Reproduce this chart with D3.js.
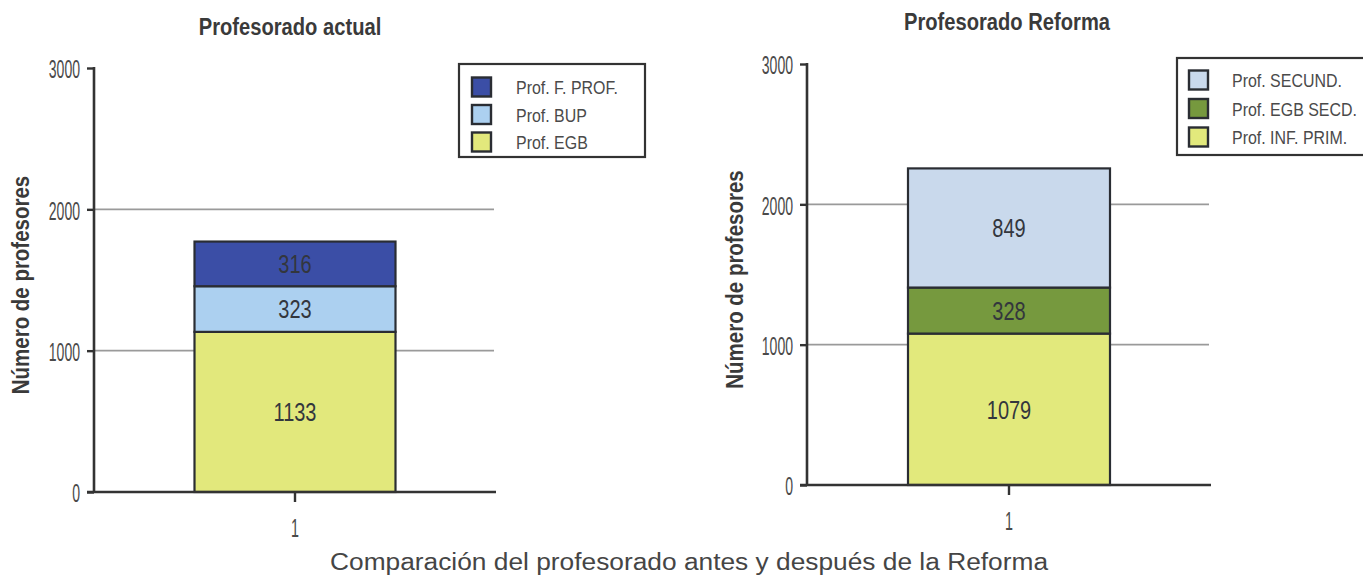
<!DOCTYPE html>
<html><head><meta charset="utf-8">
<script src="https://cdn.jsdelivr.net/npm/d3@7"></script>
<style>
html,body{margin:0;padding:0;background:#fff;}
svg{display:block;}
</style></head>
<body>
<script>
// ---- data ----
const categories = ["1"];
const yTicks = [0, 1000, 2000, 3000];
const gridValues = [1000, 2000];

const leftTitle = "Profesorado actual";
const leftSeries = ["Prof. EGB", "Prof. BUP", "Prof. F. PROF."];
const leftValues = [1133, 323, 316];
const leftColors = ["#e2e87c", "#acd0f0", "#3b4ea6"];

const rightTitle = "Profesorado Reforma";
const rightSeries = ["Prof. INF. PRIM.", "Prof. EGB SECD.", "Prof. SECUND."];
const rightValues = [1079, 328, 849];
const rightColors = ["#e2e97c", "#76993e", "#c9d9ec"];

const yTitle = "Número de profesores";
const caption = "Comparación del profesorado antes y después de la Reforma";

const W = 1363, H = 578;
const svg = d3.select("body").append("svg").attr("width", W).attr("height", H);

const FONT = "'Liberation Sans Narrow','Liberation Sans',Arial,sans-serif";
const ink = "#3f3f3f";

function condText(g, x, y, str, opts) {
  return g.append("text")
    .attr("transform", `translate(${x},${y}) rotate(${opts.rot || 0}) scale(${opts.sx || 1},1)`)
    .attr("font-family", FONT)
    .attr("font-size", opts.size)
    .attr("font-weight", opts.weight || "normal")
    .attr("fill", opts.fill || ink)
    .attr("text-anchor", opts.anchor || "middle")
    .attr("dominant-baseline", opts.baseline || "auto")
    .text(str);
}

function panel(cfg) {
  const g = svg.append("g");
  const y = d3.scaleLinear().domain([0, 3000]).range([cfg.y0, cfg.y3]);
  const x = d3.scaleBand().domain(categories).range([cfg.xAxis, cfg.xEnd]).paddingInner(0).paddingOuter(0.5);

  // gridlines
  g.selectAll("line.grid").data(gridValues).join("line")
    .attr("x1", cfg.xAxis).attr("x2", cfg.xEnd - 2)
    .attr("y1", d => y(d)).attr("y2", d => y(d))
    .attr("stroke", "#9a9a9a").attr("stroke-width", 1.6);

  // stacked bars
  const stackData = [{cat: categories[0]}];
  cfg.series.forEach((s, i) => stackData[0][s] = cfg.values[i]);
  const stack = d3.stack().keys(cfg.series)(stackData);
  stack.forEach((layer, i) => {
    layer.forEach(d => {
      g.append("rect")
        .attr("x", x(d.data.cat)).attr("width", x.bandwidth())
        .attr("y", y(d[1])).attr("height", y(d[0]) - y(d[1]))
        .attr("fill", cfg.colors[i]).attr("stroke", "#2a2d33").attr("stroke-width", 2.2);
    });
  });
  stack.forEach((layer, i) => {
    layer.forEach(d => {
      condText(g, x(d.data.cat) + x.bandwidth() / 2, (y(d[0]) + y(d[1])) / 2 + 1,
        String(cfg.values[i]), {size: 25, sx: 0.8, baseline: "central", fill: "#33363d"});
    });
  });

  // y axis
  const yAxis = d3.axisLeft(y).tickValues(yTicks).tickSize(7).tickFormat("");
  const ya = g.append("g").attr("transform", `translate(${cfg.xAxis},0)`).call(yAxis);
  ya.select(".domain").remove();
  ya.selectAll(".tick line").attr("stroke", "#333").attr("stroke-width", 2.4);
  g.append("line").attr("x1", cfg.xAxis).attr("x2", cfg.xAxis)
    .attr("y1", y(3000) - 1).attr("y2", y(0) + 1).attr("stroke", "#333").attr("stroke-width", 2.6);
  yTicks.forEach(v => condText(g, cfg.xAxis - 14, y(v) + 1, String(v),
    {size: 26, sx: 0.54, anchor: "end", baseline: "central", fill: "#4a4a4a"}));

  // x axis
  const xAxis = d3.axisBottom(x).tickSize(10).tickFormat("");
  const xa = g.append("g").attr("transform", `translate(0,${cfg.y0})`).call(xAxis);
  xa.select(".domain").remove();
  xa.selectAll(".tick line").attr("stroke", "#333").attr("stroke-width", 2.4);
  g.append("line").attr("x1", cfg.xAxis - 7).attr("x2", cfg.xEnd)
    .attr("y1", cfg.y0).attr("y2", cfg.y0).attr("stroke", "#333").attr("stroke-width", 2.6);
  categories.forEach(c => condText(g, x(c) + x.bandwidth() / 2, cfg.y0 + 36, c,
    {size: 26, sx: 0.55, baseline: "central", fill: "#4a4a4a"}));

  // titles
  condText(g, cfg.titleX, cfg.titleY, cfg.title, {size: 24, sx: 0.84, weight: "bold", fill: "#3a3a3a"});
  condText(g, cfg.yTitleX, (y(0) + y(3000)) / 2 + 5, yTitle,
    {size: 23, sx: 0.89, rot: -90, weight: "bold", baseline: "central", fill: "#3a3a3a"});

  // legend
  const lg = g.append("g");
  lg.append("rect").attr("x", cfg.lx).attr("y", cfg.ly).attr("width", cfg.lw).attr("height", cfg.lh)
    .attr("fill", "#fff").attr("stroke", "#333").attr("stroke-width", 2.2);
  const order = cfg.series.map((s, i) => i).reverse();
  order.forEach((idx, r) => {
    const cy = cfg.ly + cfg.rowStart + r * cfg.rowStep;
    lg.append("rect").attr("x", cfg.lx + cfg.swX).attr("y", cy - cfg.sw / 2)
      .attr("width", cfg.sw).attr("height", cfg.sw)
      .attr("fill", cfg.colors[idx]).attr("stroke", "#2a2d33").attr("stroke-width", 2.4);
    condText(lg, cfg.lx + cfg.txX, cy + 1, cfg.series[idx],
      {size: 19, sx: 0.84, anchor: "start", baseline: "central", fill: "#4a4a4a"});
  });
}

panel({
  title: leftTitle, series: leftSeries, values: leftValues, colors: leftColors,
  xAxis: 94, xEnd: 496, y0: 492, y3: 68,
  titleX: 290, titleY: 35, yTitleX: 21,
  lx: 459, ly: 64, lw: 186, lh: 93, rowStart: 23, rowStep: 27.5, sw: 19, swX: 13, txX: 57
});

panel({
  title: rightTitle, series: rightSeries, values: rightValues, colors: rightColors,
  xAxis: 807, xEnd: 1211, y0: 485, y3: 64,
  titleX: 1007, titleY: 30, yTitleX: 735,
  lx: 1177, ly: 58, lw: 190, lh: 97, rowStart: 22, rowStep: 28.5, sw: 19, swX: 12, txX: 55
});

condText(svg, 689, 570, caption, {size: 23.5, sx: 1.12, fill: "#454545"})
  .attr("font-family", "'Liberation Sans',Arial,sans-serif");
</script>
</body></html>
